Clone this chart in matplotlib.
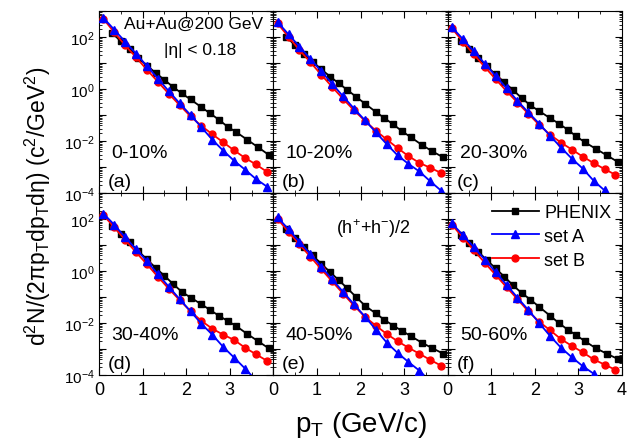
import numpy as np
import matplotlib
matplotlib.use("Agg")
import matplotlib.pyplot as plt
from matplotlib.ticker import LogLocator, NullFormatter, FuncFormatter, MultipleLocator

plt.rcParams['font.family'] = ['Liberation Sans', 'DejaVu Sans']
plt.rcParams['mathtext.fontset'] = 'custom'
plt.rcParams['mathtext.rm'] = 'Liberation Sans'
plt.rcParams['mathtext.it'] = 'Liberation Sans'
plt.rcParams['mathtext.bf'] = 'Liberation Sans:bold'

# ---------------- data (log10 of yield) ----------------
pt_phenix = [0.3, 0.5, 0.7, 0.9, 1.1, 1.3, 1.5, 1.7, 1.9, 2.1, 2.35, 2.55, 2.75, 2.95, 3.15, 3.4, 3.65, 3.9]
pt_model = [0.1, 0.35, 0.6, 0.85, 1.1, 1.35, 1.6, 1.85, 2.1, 2.35, 2.6, 2.85, 3.1, 3.35, 3.6, 3.85]

centralities = ["0-10%", "10-20%", "20-30%", "30-40%", "40-50%", "50-60%"]
panel_tags = ["(a)", "(b)", "(c)", "(d)", "(e)", "(f)"]

log_phenix_a = [2.15, 1.84, 1.52, 1.2, 0.9, 0.62, 0.35, 0.08, -0.17, -0.4, -0.7, -0.94, -1.18, -1.45, -1.66, -1.95, -2.24, -2.54]
log_setA_a = [2.74, 2.28, 1.82, 1.36, 0.88, 0.40, -0.08, -0.55, -1.0, -1.47, -1.95, -2.37, -2.76, -3.10, -3.46, -3.75]
log_setB_a = [2.70, 2.18, 1.68, 1.22, 0.74, 0.28, -0.18, -0.62, -1.05, -1.42, -1.74, -2.05, -2.36, -2.65, -2.90, -3.18]

log_phenix_b = [2.0, 1.68, 1.36, 1.05, 0.76, 0.48, 0.22, -0.04, -0.3, -0.56, -0.88, -1.12, -1.36, -1.62, -1.85, -2.14, -2.4, -2.63]
log_setA_b = [2.57, 2.1, 1.63, 1.16, 0.68, 0.2, -0.28, -0.75, -1.2, -1.66, -2.12, -2.55, -2.88, -3.17, -3.55, -3.91]
log_setB_b = [2.52, 2.0, 1.5, 1.03, 0.55, 0.08, -0.38, -0.82, -1.22, -1.6, -1.94, -2.27, -2.58, -2.84, -3.03, -3.23]

log_phenix_c = [1.85, 1.52, 1.19, 0.87, 0.56, 0.26, -0.04, -0.35, -0.63, -0.85, -1.12, -1.33, -1.56, -1.82, -2.05, -2.3, -2.55, -2.8]
log_setA_c = [2.37, 1.92, 1.45, 0.98, 0.5, 0.03, -0.45, -0.9, -1.33, -1.8, -2.25, -2.68, -3.06, -3.53, -3.9, -4.3]
log_setB_c = [2.33, 1.82, 1.33, 0.85, 0.38, -0.08, -0.52, -0.95, -1.38, -1.76, -2.06, -2.33, -2.6, -2.85, -3.08, -3.3]

log_phenix_d = [1.75, 1.42, 1.1, 0.77, 0.45, 0.12, -0.18, -0.5, -0.8, -1.02, -1.28, -1.5, -1.72, -1.92, -2.12, -2.42, -2.7, -2.98]
log_setA_d = [2.21, 1.78, 1.3, 0.84, 0.38, -0.12, -0.6, -1.08, -1.55, -2.03, -2.45, -2.92, -3.33, -3.75, -4.2, -4.6]
log_setB_d = [2.15, 1.68, 1.2, 0.72, 0.26, -0.22, -0.68, -1.12, -1.55, -1.92, -2.22, -2.45, -2.65, -2.95, -3.2, -3.45]

log_phenix_e = [1.6, 1.27, 0.94, 0.6, 0.28, -0.04, -0.35, -0.67, -1.0, -1.33, -1.63, -1.88, -2.1, -2.3, -2.5, -2.75, -2.97, -3.18]
log_setA_e = [2.06, 1.6, 1.12, 0.65, 0.17, -0.32, -0.8, -1.28, -1.75, -2.25, -2.75, -3.15, -3.5, -3.83, -4.25, -4.6]
log_setB_e = [2.0, 1.5, 1.02, 0.55, 0.07, -0.4, -0.87, -1.33, -1.76, -2.1, -2.42, -2.7, -2.95, -3.18, -3.42, -3.64]

log_phenix_f = [1.4, 1.07, 0.74, 0.42, 0.1, -0.22, -0.55, -0.85, -1.1, -1.38, -1.72, -2.0, -2.25, -2.47, -2.7, -2.97, -3.18, -3.38]
log_setA_f = [1.83, 1.38, 0.92, 0.44, -0.04, -0.53, -1.02, -1.5, -2.0, -2.5, -2.95, -3.32, -3.66, -3.95, -4.3, -4.7]
log_setB_f = [1.78, 1.28, 0.8, 0.32, -0.15, -0.62, -1.08, -1.55, -1.95, -2.28, -2.62, -2.88, -3.13, -3.4, -3.6, -3.8]

phenix_sets = [log_phenix_a, log_phenix_b, log_phenix_c, log_phenix_d, log_phenix_e, log_phenix_f]
setA_sets = [log_setA_a, log_setA_b, log_setA_c, log_setA_d, log_setA_e, log_setA_f]
setB_sets = [log_setB_a, log_setB_b, log_setB_c, log_setB_d, log_setB_e, log_setB_f]

# ---------------- figure ----------------
fig = plt.figure(figsize=(6.31, 4.39), dpi=100)
gs = fig.add_gridspec(2, 3, left=99/631, right=622/631, top=1-12/439, bottom=1-376/439,
                      hspace=0, wspace=0)

def ylab(v, pos):
    e = int(round(np.log10(v)))
    if e % 2 != 0 or e > 2:
        return ""
    return r"$\mathregular{10^{%d}}$" % e

for i in range(6):
    r, c = divmod(i, 3)
    ax = fig.add_subplot(gs[r, c])
    ax.set_yscale('log')
    ax.set_xlim(0, 4)
    ax.set_ylim(1e-4, 1e3)
    pA = np.power(10.0, setA_sets[i])
    pB = np.power(10.0, setB_sets[i])
    pP = np.power(10.0, phenix_sets[i])
    ax.plot(pt_phenix, pP, color='black', marker='s', ms=4.5, lw=1.3, label='PHENIX', zorder=3)
    ax.plot(pt_model, pB, color='#ff0000', marker='o', ms=5, lw=1.3, label='set B', zorder=4)
    ax.plot(pt_model, pA, color='#0000ff', marker='^', ms=5.5, lw=1.3, label='set A', zorder=5)

    ax.yaxis.set_major_locator(LogLocator(base=10, numticks=20))
    ax.yaxis.set_minor_locator(LogLocator(base=10, subs=np.arange(2, 10), numticks=20))
    ax.yaxis.set_minor_formatter(NullFormatter())
    ax.xaxis.set_major_locator(MultipleLocator(1))
    ax.xaxis.set_minor_locator(MultipleLocator(0.5))
    ax.tick_params(which='both', direction='in', top=True, right=True)
    ax.tick_params(which='major', length=5, width=0.8)
    ax.tick_params(which='minor', length=2.5, width=0.6)
    ax.tick_params(axis='y', which='major', labelsize=11, pad=3)
    ax.tick_params(axis='x', which='major', labelsize=13, pad=4)

    if c == 0:
        ax.yaxis.set_major_formatter(FuncFormatter(ylab))
    else:
        ax.yaxis.set_major_formatter(NullFormatter())
    if r == 1:
        if c < 2:
            ax.xaxis.set_major_formatter(FuncFormatter(lambda v, p: "" if v > 3.5 else "%d" % v))
        else:
            ax.xaxis.set_major_formatter(FuncFormatter(lambda v, p: "%d" % v))
    else:
        ax.xaxis.set_major_formatter(NullFormatter())

    ax.text(0.07, 0.22, centralities[i], transform=ax.transAxes, fontsize=14, va='center', ha='left')
    ax.text(0.05, 0.065, panel_tags[i], transform=ax.transAxes, fontsize=14, va='center', ha='left')

    if i == 0:
        ax.text(0.545, 0.93, "Au+Au@200 GeV", transform=ax.transAxes, fontsize=12.5, ha='center', va='center')
        ax.text(0.58, 0.79, "|\u03b7| < 0.18", transform=ax.transAxes, fontsize=12.5, ha='center', va='center')
    if i == 4:
        ax.text(0.36, 0.81, r"(h$^{+}$+h$^{-}$)/2", transform=ax.transAxes, fontsize=13, ha='left', va='center')
    if i == 5:
        h, l = ax.get_legend_handles_labels()
        order = [0, 2, 1]
        ax.legend([h[k] for k in order], [l[k] for k in order], loc='upper right', frameon=False,
                  fontsize=13, handlelength=2.6, handletextpad=0.3, labelspacing=0.38,
                  borderaxespad=0.4, borderpad=0.2)

fig.text(0.06, 0.53, r"d$^2$N/(2$\pi$p$_T$dp$_T$d$\eta$) (c$^2$/GeV$^2$)", rotation=90,
         fontsize=16.5, ha='center', va='center')
fig.text((99 + 622) / 2 / 631, 0.032, r"p$_T$ (GeV/c)", fontsize=20, ha='center', va='center')

fig.savefig("out.png", dpi=100)
